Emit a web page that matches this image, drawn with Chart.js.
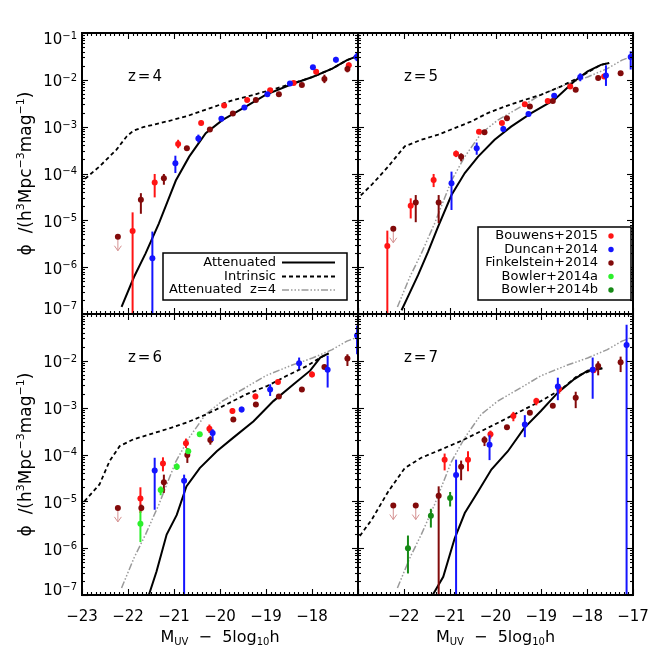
<!DOCTYPE html>
<html><head><meta charset="utf-8">
<script src="https://cdn.jsdelivr.net/npm/chart.js@4.4.1/dist/chart.umd.min.js"></script>
<style>
html,body{margin:0;padding:0;background:#fff;}
#wrap{position:relative;width:664px;height:664px;background:#fff;}
#wrap canvas{position:absolute;left:0;top:0;}
</style></head><body><div id="wrap">
<canvas id="p4" width="664" height="664"></canvas>
<canvas id="p5" width="664" height="664"></canvas>
<canvas id="p6" width="664" height="664"></canvas>
<canvas id="p7" width="664" height="664"></canvas>
</div>
<script>
// ---------------- axis ticks / labels ----------------
const xTickValues = [-23, -22, -21, -20, -19, -18, -17];
const xTickLabels = ['−23', '−22', '−21', '−20', '−19', '−18', '−17'];
const yTickExponents = [-1, -2, -3, -4, -5, -6, -7];

// ---------------- model curves (M_UV, log10 phi) ----------------
// z=4 attenuated (also shown grey as "Attenuated z=4" in the other panels)
const z4_att_M = [-22.14, -21.87, -21.62, -21.33, -21.15, -20.96, -20.67, -20.44, -20.31, -19.95, -19.44, -19.01, -18.43, -17.99, -17.56, -17.24, -17.0];
const z4_att_L = [-6.85, -6.21, -5.71, -5.07, -4.62, -4.15, -3.64, -3.32, -3.14, -2.86, -2.57, -2.32, -2.09, -1.94, -1.76, -1.58, -1.49];
const z4_int_M = [-23.05, -22.62, -22.25, -22.03, -21.89, -21.67, -21.16, -20.73, -20.29, -19.71, -19.27, -18.77, -18.43, -17.99, -17.56, -17.24, -17.0];
const z4_int_L = [-4.21, -3.85, -3.49, -3.21, -3.09, -3.01, -2.89, -2.78, -2.63, -2.43, -2.32, -2.18, -2.08, -1.94, -1.76, -1.58, -1.49];

const z5_att_M = [-22.05, -21.91, -21.69, -21.47, -21.25, -20.96, -20.67, -20.38, -20.02, -19.66, -19.22, -18.72, -18.28, -17.99, -17.70, -17.52];
const z5_att_L = [-6.92, -6.63, -6.17, -5.67, -5.13, -4.46, -3.99, -3.64, -3.28, -3.00, -2.71, -2.43, -2.03, -1.82, -1.68, -1.64];
const z5_int_M = [-23.05, -22.70, -22.34, -21.98, -21.62, -21.25, -20.89, -20.53, -20.17, -19.80, -19.37, -19.01, -18.57, -18.14, -17.70, -17.52];
const z5_int_L = [-4.57, -4.24, -3.85, -3.42, -3.28, -3.17, -3.03, -2.89, -2.71, -2.57, -2.43, -2.32, -2.14, -1.93, -1.68, -1.64];

const z6_att_M = [-21.58, -21.38, -21.16, -20.94, -20.73, -20.44, -20.07, -19.71, -19.27, -18.84, -18.40, -18.04, -17.82, -17.64];
const z6_att_L = [-7.10, -6.50, -5.71, -5.29, -4.68, -4.29, -3.93, -3.64, -3.29, -2.86, -2.50, -2.21, -1.93, -1.84];
const z6_int_M = [-23.05, -22.62, -22.40, -22.18, -21.89, -21.53, -21.16, -20.73, -20.29, -19.86, -19.42, -18.98, -18.55, -18.11, -17.82, -17.64];
const z6_int_L = [-5.11, -4.64, -4.14, -3.82, -3.68, -3.57, -3.46, -3.32, -3.14, -2.93, -2.71, -2.54, -2.32, -2.11, -1.93, -1.84];

const z7_att_M = [-21.43, -21.14, -20.89, -20.67, -20.38, -20.09, -19.73, -19.37, -19.01, -18.64, -18.28, -17.99, -17.67];
const z7_att_L = [-7.10, -6.61, -5.79, -5.25, -4.79, -4.32, -3.93, -3.43, -3.07, -2.68, -2.39, -2.21, -2.16];
const z7_int_M = [-23.05, -22.70, -22.34, -21.98, -21.62, -21.18, -20.75, -20.31, -19.88, -19.44, -19.01, -18.57, -18.21, -17.92, -17.67];
const z7_int_L = [-5.86, -5.39, -4.79, -4.29, -4.07, -3.89, -3.71, -3.50, -3.29, -3.07, -2.86, -2.61, -2.32, -2.21, -2.16];

// ---------------- observations (M_UV, log10 phi, upper/lower error ends) ----------------
// z = 4
const z4_bou_M  = [-21.90, -21.42, -20.91, -20.41, -19.91, -19.41, -18.91, -18.40, -17.91, -17.20];
const z4_bou_L  = [-5.23, -4.19, -3.37, -2.92, -2.55, -2.43, -2.22, -2.07, -1.83, -1.69];
const z4_bou_hi = [-4.83, -4.01, -3.28, -2.87, -2.51, -2.39, -2.19, -2.04, -1.79, -1.63];
const z4_bou_lo = [-8.0, -4.51, -3.46, -2.97, -2.59, -2.47, -2.25, -2.10, -1.87, -1.76];
const z4_dun_M  = [-21.47, -20.97, -20.47, -19.97, -19.47, -18.97, -18.48, -17.98, -17.48, -17.03];
const z4_dun_L  = [-5.81, -3.78, -3.25, -2.83, -2.59, -2.31, -2.08, -1.73, -1.57, -1.51];
const z4_dun_hi = [-5.24, -3.62, -3.17, -2.79, -2.55, -2.28, -2.05, -1.69, -1.51, -1.42];
const z4_dun_lo = [-8.0, -3.99, -3.34, -2.87, -2.63, -2.34, -2.11, -1.77, -1.63, -1.60];
const z4_fin_M  = [-22.22, -21.72, -21.22, -20.72, -20.22, -19.72, -19.22, -18.72, -18.22, -17.73, -17.23];
const z4_fin_L  = [-5.35, -4.56, -4.10, -3.46, -3.06, -2.72, -2.43, -2.31, -2.11, -1.98, -1.77];
const z4_fin_hi = [-5.35, -4.42, -4.01, -3.42, -3.02, -2.69, -2.40, -2.28, -2.08, -1.89, -1.70];
const z4_fin_lo = [-5.35, -4.86, -4.24, -3.50, -3.10, -2.75, -2.46, -2.34, -2.14, -2.07, -1.84];
const z4_fin_upper = [0];

// z = 5
const z5_bou_M  = [-22.36, -21.85, -21.35, -20.86, -20.36, -19.86, -19.36, -18.86, -18.37, -17.63];
const z5_bou_L  = [-5.55, -4.69, -4.14, -3.58, -3.11, -2.92, -2.52, -2.45, -2.14, -1.93];
const z5_bou_hi = [-5.22, -4.53, -4.01, -3.51, -3.07, -2.88, -2.49, -2.42, -2.11, -1.89];
const z5_bou_lo = [-8.0, -4.96, -4.29, -3.65, -3.15, -2.96, -2.55, -2.48, -2.17, -1.97];
const z5_dun_M  = [-20.96, -20.41, -19.83, -19.28, -18.72, -18.15, -17.59, -17.05];
const z5_dun_L  = [-4.21, -3.46, -3.05, -2.73, -2.34, -1.94, -1.91, -1.51];
const z5_dun_hi = [-3.96, -3.34, -2.99, -2.68, -2.29, -1.86, -1.69, -1.39];
const z5_dun_lo = [-4.78, -3.60, -3.11, -2.78, -2.39, -2.03, -2.13, -1.78];
const z5_fin_M  = [-22.23, -21.74, -21.24, -20.75, -20.24, -19.75, -19.25, -18.75, -18.25, -17.76, -17.27];
const z5_fin_L  = [-5.18, -4.62, -4.62, -3.64, -3.12, -2.82, -2.57, -2.45, -2.21, -1.96, -1.86];
const z5_fin_hi = [-5.18, -4.46, -4.46, -3.57, -3.08, -2.78, -2.54, -2.42, -2.18, -1.93, -1.83];
const z5_fin_lo = [-5.18, -5.04, -5.06, -3.74, -3.16, -2.86, -2.60, -2.48, -2.24, -1.99, -1.89];
const z5_fin_upper = [0];

// z = 6
const z6_bou_M  = [-21.73, -21.24, -20.74, -20.23, -19.73, -19.23, -18.74, -18.00];
const z6_bou_L  = [-4.94, -4.19, -3.76, -3.45, -3.07, -2.76, -2.45, -2.29];
const z6_bou_hi = [-4.70, -4.06, -3.66, -3.36, -3.01, -2.70, -2.40, -2.23];
const z6_bou_lo = [-5.25, -4.36, -3.86, -3.54, -3.13, -2.82, -2.50, -2.35];
const z6_bwa_M  = [-21.73, -21.29, -20.94, -20.69, -20.44];
const z6_bwa_L  = [-5.48, -4.76, -4.26, -3.93, -3.57];
const z6_bwa_hi = [-5.21, -4.68, -4.19, -3.87, -3.52];
const z6_bwa_lo = [-5.87, -4.87, -4.33, -3.99, -3.62];
const z6_dun_M  = [-21.42, -20.78, -20.16, -19.53, -18.91, -18.28, -17.66, -17.02];
const z6_dun_L  = [-4.34, -4.56, -3.54, -3.04, -2.61, -2.05, -2.19, -1.46];
const z6_dun_hi = [-4.07, -4.43, -3.46, -2.98, -2.50, -1.93, -1.89, -1.25];
const z6_dun_lo = [-5.18, -8.0, -3.71, -3.10, -2.75, -2.18, -2.57, -1.86];
const z6_fin_M  = [-22.22, -21.71, -21.22, -20.71, -20.21, -19.71, -19.22, -18.72, -18.22, -17.73, -17.23];
const z6_fin_L  = [-5.14, -5.14, -4.59, -4.01, -3.69, -3.25, -2.93, -2.76, -2.61, -2.13, -1.95];
const z6_fin_hi = [-5.14, -5.07, -4.43, -3.86, -3.61, -3.21, -2.89, -2.73, -2.58, -2.09, -1.86];
const z6_fin_lo = [-5.14, -5.21, -4.82, -4.18, -3.79, -3.29, -2.97, -2.79, -2.64, -2.17, -2.11];
const z6_fin_upper = [0];

// z = 7
const z7_bou_M  = [-21.11, -20.60, -20.11, -19.61, -19.11, -18.61, -17.86];
const z7_bou_L  = [-4.11, -4.11, -3.57, -3.18, -2.86, -2.60, -2.20];
const z7_bou_hi = [-3.98, -3.93, -3.49, -3.09, -2.79, -2.50, -2.14];
const z7_bou_lo = [-4.34, -4.36, -3.66, -3.29, -2.95, -2.70, -2.26];
const z7_dun_M  = [-20.86, -20.13, -19.36, -18.64, -17.88, -17.14];
const z7_dun_L  = [-4.44, -3.79, -3.36, -2.55, -2.19, -1.66];
const z7_dun_hi = [-4.11, -3.59, -3.16, -2.36, -1.93, -1.23];
const z7_dun_lo = [-8.0, -4.12, -3.63, -2.84, -2.81, -8.0];
const z7_fin_M  = [-22.23, -21.74, -21.24, -20.75, -20.24, -19.75, -19.25, -18.75, -18.25, -17.76, -17.27];
const z7_fin_L  = [-5.09, -5.09, -4.88, -4.26, -3.69, -3.42, -3.11, -2.96, -2.79, -2.11, -2.03];
const z7_fin_hi = [-5.09, -5.09, -4.68, -4.13, -3.61, -3.37, -3.07, -2.92, -2.66, -2.01, -1.91];
const z7_fin_lo = [-5.09, -5.09, -8.0, -4.55, -3.82, -3.47, -3.15, -3.00, -3.01, -2.31, -2.24];
const z7_fin_upper = [0, 1];
const z7_bwb_M  = [-21.91, -21.41, -20.99];
const z7_bwb_L  = [-6.00, -5.31, -4.93];
const z7_bwb_hi = [-5.73, -5.16, -4.80];
const z7_bwb_lo = [-6.54, -5.56, -5.11];

// ---------------- legend texts ----------------
const modelLegend = ['Attenuated', 'Intrinsic', 'Attenuated  z=4'];
const obsLegend = ['Bouwens+2015', 'Duncan+2014', 'Finkelstein+2014', 'Bowler+2014a', 'Bowler+2014b'];

// ---------------- styles ----------------
const FONT = '"DejaVu Sans", sans-serif';
const C_RED = '#ff1414', C_BLUE = '#1414ff', C_DRED = '#820a0a', C_GREEN = '#2cf02c', C_DGREEN = '#168a16';
const C_GREY = '#9a9a9a', C_ARROW = '#d49090';
const DASH_INT = [4, 3];
const DASH_GREY = [7, 2, 1.5, 2, 1.5, 2, 1.5, 2];
const obsColors = [C_RED, C_BLUE, C_DRED, C_GREEN, C_DGREEN];

const P = v => Math.pow(10, v);
function pts(M, L, hi, lo, color, upper) {
  return { data: M.map((m, i) => ({ x: m, y: P(L[i]) })), backgroundColor: color, borderColor: color,
    pointRadius: 3, pointBorderWidth: 0, pointHoverRadius: 3, showLine: false, clip: 0, order: 0,
    errHi: hi, errLo: lo, upperIdx: upper || [] };
}
function curve(M, L, color, width, dash, order) {
  return { data: M.map((m, i) => ({ x: m, y: P(L[i]) })), showLine: true, borderColor: color, backgroundColor: color,
    borderWidth: width, borderDash: dash, pointRadius: 0, pointHoverRadius: 0, clip: 0, order: order, tension: 0, fill: false };
}

function richWidth(ctx, parts) {
  let w = 0;
  for (const p of parts) { ctx.font = p.size + 'px ' + FONT; w += ctx.measureText(p.t).width; }
  return w;
}
function drawRich(ctx, parts, x, y) {
  let cx = x;
  for (const p of parts) {
    ctx.font = p.size + 'px ' + FONT;
    ctx.fillText(p.t, cx, y + (p.dy || 0));
    cx += ctx.measureText(p.t).width;
  }
}

const panelCfg = {
  p4: { area: [82, 33, 358, 314], label: 'z=4', yExps: [-1, -2, -3, -4, -5, -6, -7], xLabels: false, modelLegend: true },
  p5: { area: [358, 33, 633, 314], label: 'z=5', yExps: null, xLabels: false, obsLegend: true },
  p6: { area: [82, 314, 358, 595], label: 'z=6', yExps: [-2, -3, -4, -5, -6, -7], xLabels: [0, 1, 2, 3, 4, 5] },
  p7: { area: [358, 314, 633, 595], label: 'z=7', yExps: null, xLabels: [1, 2, 3, 4, 5, 6] }
};

function line(ctx, x1, y1, x2, y2) { ctx.beginPath(); ctx.moveTo(x1, y1); ctx.lineTo(x2, y2); ctx.stroke(); }

const deco = {
  id: 'deco',
  beforeDatasetDraw(chart, args) {
    const ds = chart.data.datasets[args.index];
    if (!ds.errHi) return;
    const { ctx, chartArea: a } = chart;
    const ys = chart.scales.y;
    ctx.save();
    ctx.beginPath(); ctx.rect(a.left, a.top, a.right - a.left, a.bottom - a.top); ctx.clip();
    args.meta.data.forEach((pt, i) => {
      const px = pt.x;
      if (ds.upperIdx.includes(i)) {
        const py = pt.y;
        ctx.strokeStyle = C_ARROW; ctx.lineWidth = 1;
        line(ctx, px, py, px, py + 14);
        ctx.beginPath(); ctx.moveTo(px - 3.5, py + 9); ctx.lineTo(px, py + 14); ctx.lineTo(px + 3.5, py + 9); ctx.stroke();
      } else {
        ctx.strokeStyle = ds.borderColor; ctx.lineWidth = 2;
        line(ctx, px, ys.getPixelForValue(P(ds.errHi[i])), px, ys.getPixelForValue(P(ds.errLo[i])));
      }
    });
    ctx.restore();
  },
  afterDraw(chart) {
    const cfg = panelCfg[chart.canvas.id];
    const { ctx, chartArea: a } = chart;
    const xs = chart.scales.x, ys = chart.scales.y;
    ctx.save();
    ctx.strokeStyle = '#000'; ctx.fillStyle = '#000'; ctx.lineWidth = 1.1;
    // x ticks (major each mag, minor each 0.1 mag), inward on bottom and top
    for (let k = 0; k <= 60; k++) {
      const v = xTickValues[0] + k * 0.1;
      const px = Math.round(xs.getPixelForValue(v)) + 0.5;
      const L = (k % 10 === 0) ? 6 : 3;
      line(ctx, px, a.bottom, px, a.bottom - L);
      line(ctx, px, a.top, px, a.top + L);
    }
    // y ticks (major each decade, minor 2..9)
    for (let e = -7; e <= -1; e++) {
      for (let m = 1; m <= 9; m++) {
        if (e === -1 && m > 1) break;
        const py = Math.round(ys.getPixelForValue(m * P(e))) + 0.5;
        const L = (m === 1) ? 6 : 3;
        line(ctx, a.left, py, a.left + L, py);
        line(ctx, a.right, py, a.right - L, py);
      }
    }
    // frame
    ctx.lineWidth = 2;
    ctx.strokeRect(a.left, a.top, a.right - a.left, a.bottom - a.top);

    // y tick labels 10^n
    if (cfg.yExps) {
      for (const e of cfg.yExps) {
        let cy = ys.getPixelForValue(P(e)) + 1;
        if (e === -1) cy += 5;
        if (e === -7) cy -= 6;
        const parts = [{ t: '10', size: 15 }, { t: '−' + (-e), size: 10, dy: -5.5 }];
        const w = richWidth(ctx, parts);
        ctx.textBaseline = 'alphabetic'; ctx.textAlign = 'left';
        drawRich(ctx, parts, 77 - w, cy + 5.4);
      }
      // y title
      const cyT = (a.top + a.bottom) / 2;
      const tparts = [{ t: 'ϕ  /(h', size: 17 }, { t: '3', size: 11, dy: -7 }, { t: 'Mpc', size: 17 }, { t: '−3', size: 11, dy: -7 },
        { t: 'mag', size: 17 }, { t: '−1', size: 11, dy: -7 }, { t: ')', size: 17 }];
      ctx.save();
      ctx.translate(31, cyT); ctx.rotate(-Math.PI / 2);
      const tw = richWidth(ctx, tparts);
      drawRich(ctx, tparts, -tw / 2, 0);
      ctx.restore();
    }
    // x tick labels and title
    if (cfg.xLabels) {
      ctx.font = '15px ' + FONT; ctx.textAlign = 'center'; ctx.textBaseline = 'middle';
      for (const i of cfg.xLabels) {
        ctx.fillText(xTickLabels[i], xs.getPixelForValue(xTickValues[i]), 617);
      }
      const xparts = [{ t: 'M', size: 16 }, { t: 'UV', size: 10, dy: 3 }, { t: '  −  5log', size: 16 }, { t: '10', size: 10, dy: 3 }, { t: 'h', size: 16 }];
      ctx.textAlign = 'left'; ctx.textBaseline = 'alphabetic';
      const w = richWidth(ctx, xparts);
      drawRich(ctx, xparts, (a.left + a.right) / 2 - w / 2, 642);
    }
    // panel label
    ctx.font = '15px ' + FONT; ctx.textAlign = 'left'; ctx.textBaseline = 'middle';
    ctx.letterSpacing = '2px';
    ctx.fillText(cfg.label, a.left + 46, a.top + 44);
    ctx.letterSpacing = '0px';

    // legends
    if (cfg.modelLegend) {
      ctx.fillStyle = '#fff'; ctx.fillRect(163, 253, 184, 47);
      ctx.strokeStyle = '#000'; ctx.lineWidth = 1.5; ctx.strokeRect(163, 253, 184, 47);
      ctx.fillStyle = '#000'; ctx.font = '13px ' + FONT; ctx.textAlign = 'right'; ctx.textBaseline = 'middle';
      const rows = [262.5, 276.5, 290];
      const styles = [['#000', 2, []], ['#000', 1.8, DASH_INT], [C_GREY, 1.5, DASH_GREY]];
      modelLegend.forEach((t, i) => {
        ctx.fillText(t, 276, rows[i]);
        ctx.save(); ctx.strokeStyle = styles[i][0]; ctx.lineWidth = styles[i][1]; ctx.setLineDash(styles[i][2]);
        line(ctx, 282, rows[i], 335, rows[i]); ctx.restore();
      });
    }
    if (cfg.obsLegend) {
      ctx.fillStyle = '#fff'; ctx.fillRect(478, 227, 153, 73);
      ctx.strokeStyle = '#000'; ctx.lineWidth = 1.5; ctx.strokeRect(478, 227, 153, 73);
      ctx.font = '13px ' + FONT; ctx.textAlign = 'right'; ctx.textBaseline = 'middle';
      const rows = [236, 249.5, 263, 276.5, 290];
      obsLegend.forEach((t, i) => {
        ctx.fillStyle = '#000'; ctx.fillText(t, 598, rows[i]);
        ctx.fillStyle = obsColors[i]; ctx.beginPath(); ctx.arc(611, rows[i], 2.7, 0, Math.PI * 2); ctx.fill();
      });
    }
    ctx.restore();
  }
};

function makeChart(id, datasets) {
  const ar = panelCfg[id].area;
  return new Chart(document.getElementById(id), {
    type: 'scatter',
    data: { datasets },
    options: {
      responsive: false, animation: false, events: [],
      layout: { padding: { left: ar[0], top: ar[1], right: 664 - ar[2], bottom: 664 - ar[3] } },
      scales: {
        x: { type: 'linear', min: -23, max: -17, display: false },
        y: { type: 'logarithmic', min: 1e-7, max: 1e-1, display: false }
      },
      plugins: { legend: { display: false }, tooltip: { enabled: false } }
    },
    plugins: [deco]
  });
}

makeChart('p4', [
  pts(z4_fin_M, z4_fin_L, z4_fin_hi, z4_fin_lo, C_DRED, z4_fin_upper),
  pts(z4_dun_M, z4_dun_L, z4_dun_hi, z4_dun_lo, C_BLUE),
  pts(z4_bou_M, z4_bou_L, z4_bou_hi, z4_bou_lo, C_RED),
  curve(z4_int_M, z4_int_L, '#000', 1.8, DASH_INT, 2),
  curve(z4_att_M, z4_att_L, '#000', 2, [], 1)
]);
makeChart('p5', [
  pts(z5_fin_M, z5_fin_L, z5_fin_hi, z5_fin_lo, C_DRED, z5_fin_upper),
  pts(z5_dun_M, z5_dun_L, z5_dun_hi, z5_dun_lo, C_BLUE),
  pts(z5_bou_M, z5_bou_L, z5_bou_hi, z5_bou_lo, C_RED),
  curve(z4_att_M, z4_att_L, C_GREY, 1.5, DASH_GREY, 3),
  curve(z5_int_M, z5_int_L, '#000', 1.8, DASH_INT, 2),
  curve(z5_att_M, z5_att_L, '#000', 2, [], 1)
]);
makeChart('p6', [
  pts(z6_dun_M, z6_dun_L, z6_dun_hi, z6_dun_lo, C_BLUE),
  pts(z6_bwa_M, z6_bwa_L, z6_bwa_hi, z6_bwa_lo, C_GREEN),
  pts(z6_fin_M, z6_fin_L, z6_fin_hi, z6_fin_lo, C_DRED, z6_fin_upper),
  pts(z6_bou_M, z6_bou_L, z6_bou_hi, z6_bou_lo, C_RED),
  curve(z4_att_M, z4_att_L, C_GREY, 1.5, DASH_GREY, 3),
  curve(z6_int_M, z6_int_L, '#000', 1.8, DASH_INT, 2),
  curve(z6_att_M, z6_att_L, '#000', 2, [], 1)
]);
makeChart('p7', [
  pts(z7_dun_M, z7_dun_L, z7_dun_hi, z7_dun_lo, C_BLUE),
  pts(z7_bwb_M, z7_bwb_L, z7_bwb_hi, z7_bwb_lo, C_DGREEN),
  pts(z7_fin_M, z7_fin_L, z7_fin_hi, z7_fin_lo, C_DRED, z7_fin_upper),
  pts(z7_bou_M, z7_bou_L, z7_bou_hi, z7_bou_lo, C_RED),
  curve(z4_att_M, z4_att_L, C_GREY, 1.5, DASH_GREY, 3),
  curve(z7_int_M, z7_int_L, '#000', 1.8, DASH_INT, 2),
  curve(z7_att_M, z7_att_L, '#000', 2, [], 1)
]);
</script>
</body></html>
